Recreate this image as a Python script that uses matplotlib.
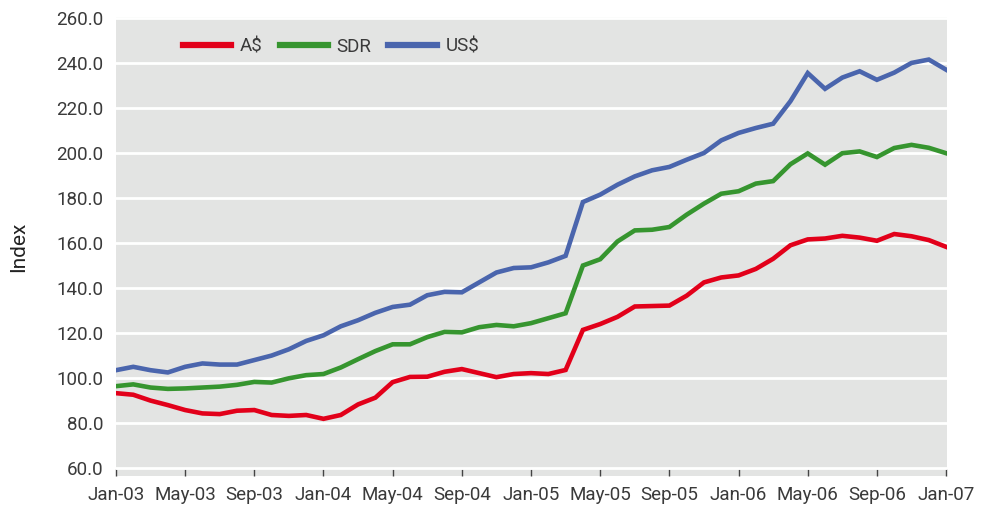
import numpy as np
import pandas as pd
import matplotlib
matplotlib.use("Agg")
import matplotlib.pyplot as plt

months = pd.date_range("2003-01-01", "2007-01-01", freq="MS")

aud = [93.3, 92.6, 90.0, 88.0, 85.8, 84.3, 84.0, 85.5, 85.8, 83.6,
       83.2, 83.6, 81.9, 83.6, 88.3, 91.3, 98.2, 100.5, 100.6, 102.8,
       104.0, 102.2, 100.4, 101.8, 102.2, 101.8, 103.6, 121.4, 124.0, 127.2,
       131.8, 132.0, 132.2, 136.6, 142.5, 144.7, 145.6, 148.5, 153.0, 159.0,
       161.6, 162.0, 163.2, 162.4, 161.0, 164.0, 163.0, 161.3, 158.3]
sdr = [96.4, 97.2, 95.8, 95.2, 95.4, 95.8, 96.2, 97.0, 98.3, 98.0,
       99.9, 101.3, 101.8, 104.7, 108.4, 112.0, 115.0, 115.0, 118.2, 120.5,
       120.3, 122.6, 123.6, 123.0, 124.4, 126.6, 128.8, 150.0, 152.8, 160.7,
       165.6, 165.9, 167.1, 172.6, 177.5, 181.9, 183.0, 186.4, 187.5, 195.0,
       199.8, 194.8, 199.9, 200.7, 198.2, 202.2, 203.6, 202.3, 199.9]
usd = [103.5, 105.0, 103.5, 102.5, 105.0, 106.5, 106.0, 106.0, 108.0, 110.0,
       112.8, 116.5, 119.0, 123.0, 125.7, 129.0, 131.6, 132.6, 136.8, 138.3,
       138.1, 142.5, 146.9, 148.9, 149.2, 151.4, 154.3, 178.2, 181.5, 185.9,
       189.6, 192.3, 193.8, 197.0, 200.0, 205.6, 208.9, 211.1, 213.0, 223.0,
       235.5, 228.5, 233.5, 236.3, 232.5, 235.7, 240.0, 241.5, 237.0]

labels = ["A$", "SDR", "US$"]
colors = ["#e2001a", "#36952f", "#4a65ad"]

plt.rcParams['font.family'] = ['Roboto', 'DejaVu Sans']

fig = plt.figure(figsize=(9.81, 5.08), dpi=100)
ax = fig.add_axes([0.1182, 0.063, 0.8471, 0.9035])
ax.set_facecolor("#e3e4e3")

x = np.arange(len(months))
for series, lab, c in zip([aud, sdr, usd], labels, colors):
    ax.plot(x, series, color=c, lw=3.3, label=lab, solid_joinstyle="miter")

ax.set_xlim(0, 48.05)
ax.set_ylim(56.5, 260.4)
ax.set_yticks(np.arange(60, 261, 20))
ax.set_yticklabels(["%.1f" % v for v in np.arange(60, 261, 20)])
ax.yaxis.grid(True, color="white", lw=2)
ax.set_axisbelow(True)

tick_pos = x[::4]
ax.set_xticks(tick_pos)
ax.set_xticklabels([months[i].strftime("%b-%y") for i in tick_pos])

for s in ax.spines.values():
    s.set_visible(False)
ax.tick_params(axis="y", length=0, pad=9, labelsize=13.5, labelcolor="#3a3a3a")
ax.tick_params(axis="x", direction="in", length=5, width=1, color="#444444",
               pad=7, labelsize=13.5, labelcolor="#3a3a3a")

ax.set_ylabel("Index", fontsize=15, color="#222222", labelpad=20)

ax.legend(loc="upper left", bbox_to_anchor=(0.06, 0.992), ncol=3, frameon=False,
          handlelength=2.6, handletextpad=0.45, columnspacing=0.9, fontsize=13.5,
          labelcolor="#3a3a3a")
for h in ax.get_legend().get_lines():
    h.set_linewidth(4.5)

fig.savefig("out.png", dpi=100)
